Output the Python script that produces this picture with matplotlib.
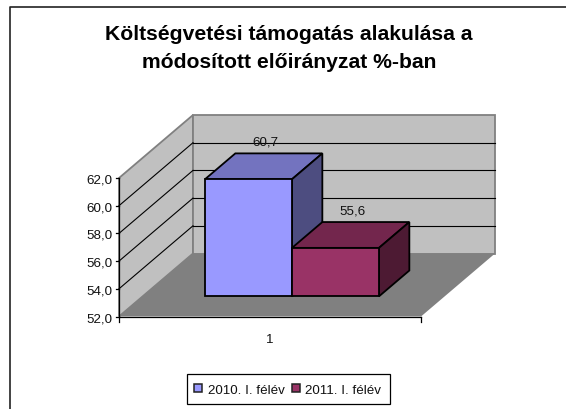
import matplotlib
matplotlib.use("Agg")
import matplotlib.pyplot as plt
from matplotlib.patches import Polygon, Rectangle
from matplotlib.lines import Line2D

title_lines = ["Költségvetési támogatás alakulása a", "módosított előirányzat %-ban"]
categories = ["1"]
series_names = ["2010. I. félév", "2011. I. félév"]
series_values = [60.7, 55.6]
value_labels = ["60,7", "55,6"]
y_ticks = [52, 54, 56, 58, 60, 62]
y_tick_labels = ["52,0", "54,0", "56,0", "58,0", "60,0", "62,0"]
front_colors = ["#9999FF", "#993366"]
top_colors = ["#7373BF", "#73264D"]
side_colors = ["#4D4D80", "#4D1A33"]

W, H = 566, 409
fig = plt.figure(figsize=(W / 100, H / 100), dpi=100, facecolor="white")
plt.rcParams["font.family"] = ["Liberation Sans", "DejaVu Sans"]

L, R, T, B = 119, 421, 178, 316.5
ax = fig.add_axes([L / W, 1 - B / H, (R - L) / W, (B - T) / H])
ax.set_xlim(0, 1)
ax.set_ylim(52, 62)
ax.axis("off")

# oblique projection: depth 0 (front) .. 1 (back)
DX = 74 / (R - L)
DY = 63 / (B - T) * 10
BASE, K = 52, 0.972
FS = 9.6


def P(x, v, d=0.0):
    return (x + d * DX, v + d * DY)


def poly(pts, fc, ec="none", lw=0.0, z=1, **kw):
    ax.add_patch(Polygon(pts, closed=True, fc=fc, ec=ec, lw=lw, zorder=z,
                         clip_on=False, joinstyle="miter", **kw))


vmin, vmax = y_ticks[0], y_ticks[-1]
wall = "#C0C0C0"
edge = "#808080"
poly([P(0, vmin), P(0, vmax), P(0, vmax, 1), P(0, vmin, 1)], wall, edge, 1.3, 1)
poly([P(0, vmin, 1), P(0, vmax, 1), P(1, vmax, 1), P(1, vmin, 1)], wall, edge, 1.3, 1)
poly([P(0, vmin), P(1, vmin), P(1, vmin, 1), P(0, vmin, 1)], "#808080", z=2)

for v in y_ticks[1:-1]:
    ax.plot(*zip(P(0, v), P(0, v, 1)), color="black", lw=0.8, zorder=1.5, clip_on=False)
    ax.plot(*zip(P(0, v, 1), P(1, v, 1)), color="black", lw=0.8, zorder=1.5, clip_on=False)

# axes lines and ticks
ax.plot(*zip(P(0, vmin), P(0, vmax)), color="black", lw=0.9, zorder=6, clip_on=False)
ax.plot(*zip(P(0, vmin), P(1, vmin)), color="black", lw=0.9, zorder=6, clip_on=False)
tick_dx = 3 / (R - L)
tick_dv = 5.5 / (B - T) * 10
for v, lab in zip(y_ticks, y_tick_labels):
    ax.plot([-tick_dx, 0], [v, v], color="black", lw=0.9, zorder=6, clip_on=False)
    ax.annotate(lab, (0, v), xytext=(-4.8, -1.8), textcoords="offset points",
                ha="right", va="center", fontsize=FS, color="#111111", annotation_clip=False)
for x in (0, 1):
    ax.plot([x, x], [vmin, vmin - tick_dv], color="black", lw=0.9, zorder=6, clip_on=False)
ax.text(0.5, vmin - 1.7, categories[0], ha="center", va="center", fontsize=FS, color="#111111")

# bars
d0, d1 = 0.32, 0.73
x0 = (205 - L) / (R - L) - d0 * DX
bw = 87 / (R - L)
for i, val in enumerate(series_values):
    xa = x0 + i * bw
    xb = xa + bw
    top = BASE + (val - BASE) * K
    z = 10 + i
    lw = 1.3
    poly([P(xa, vmin, d0), P(xb, vmin, d0), P(xb, top, d0), P(xa, top, d0)],
         front_colors[i], "black", lw, z + 0.5)
    poly([P(xa, top, d0), P(xb, top, d0), P(xb, top, d1), P(xa, top, d1)],
         top_colors[i], "black", lw, z)
    poly([P(xb, vmin, d0), P(xb, vmin, d1), P(xb, top, d1), P(xb, top, d0)],
         side_colors[i], "black", lw, z)
    lx, ly = P(xa + bw / 2, top, (d0 + d1) / 2)
    ax.annotate(value_labels[i], (lx, ly), xytext=(1.0, 16.8), textcoords="offset points",
                ha="center", va="center", fontsize=FS, color="#111111",
                zorder=20, annotation_clip=False)

# titles
for line, y in zip(title_lines, (35, 63)):
    fig.text(289 / W, 1 - y / H, line, ha="center", va="center", fontsize=15.2,
             fontweight="bold", color="black")

# outer chart border (left and top edges only are visible)
fig.add_artist(Line2D([9.5 / W, 9.5 / W, 1],
                      [0, 1 - 6.5 / H, 1 - 6.5 / H], color="#222222", lw=1.2))

# legend
lx0, lx1, ly0, ly1 = 187, 390, 374, 404
fig.add_artist(Rectangle((lx0 / W, 1 - ly1 / H), (lx1 - lx0) / W, (ly1 - ly0) / H,
                         transform=fig.transFigure, fc="white", ec="black", lw=0.9))
for sx, tx, c, name in zip((194, 292), (208, 305), front_colors, series_names):
    fig.add_artist(Rectangle((sx / W, 1 - 392 / H), 8 / W, 8 / H,
                             transform=fig.transFigure, fc=c, ec="#222222", lw=1.1))
    fig.text(tx / W, 1 - 391.5 / H, name, ha="left", va="center", fontsize=FS, color="#111111")

fig.savefig("out.png", dpi=100)
